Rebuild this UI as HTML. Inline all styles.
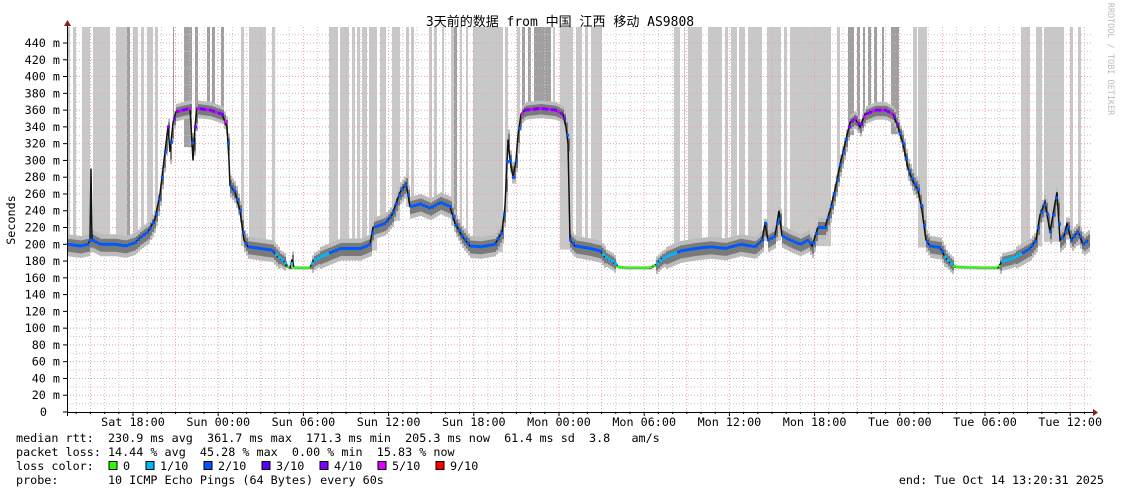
<!DOCTYPE html>
<html><head><meta charset="utf-8"><style>
html,body{margin:0;padding:0;background:#fff;}
svg{display:block;}
text{font-family:"DejaVu Sans Mono","Liberation Mono","Noto Sans CJK SC",monospace;font-size:11.75px;fill:#000;}
</style></head><body>
<svg id="s" width="1121" height="494" xmlns="http://www.w3.org/2000/svg">
<rect width="1121" height="494" fill="#fff"/>
<g id="bands"></g>
<g id="grid"></g>
<g id="smoke"></g>
<g id="med"></g>
<g id="axes"></g>
<text x="560" y="26" text-anchor="middle" style="font-family:'DejaVu Sans Mono','Noto Sans CJK SC',monospace;font-size:13px">3天前的数据 from 中国 江西 移动 AS9808</text>
<text transform="translate(15,220) rotate(-90)" text-anchor="middle">Seconds</text>
<text transform="translate(1108,59) rotate(90)" text-anchor="middle" style="font-size:8.5px;fill:#bbb">RRDTOOL / TOBI OETIKER</text>
<text x="16" y="442" xml:space="preserve">median rtt:  230.9 ms avg  361.7 ms max  171.3 ms min  205.3 ms now  61.4 ms sd  3.8   am/s</text>
<text x="16" y="456" xml:space="preserve">packet loss: 14.44 % avg  45.28 % max  0.00 % min  15.83 % now</text>
<text x="16" y="470" xml:space="preserve">loss color:  </text>
<text x="16" y="484" xml:space="preserve">probe:       10 ICMP Echo Pings (64 Bytes) every 60s</text>
<text x="1104" y="484" text-anchor="end">end: Tue Oct 14 13:20:31 2025</text>
<g id="leg"></g>
</svg>
<script>
var NS="http://www.w3.org/2000/svg";
function el(p,t,a){var e=document.createElementNS(NS,t);for(var k in a)e.setAttribute(k,a[k]);document.getElementById(p).appendChild(e);return e;}
function Y(v){return 412-v*0.8386;}
var X0=67,X1=1092;
var P=[[67,200],[80,198],[88,200],[90,205],[91,290],[92,205],[100,200],[115,200],[125,198],[135,202],[140,208],[148,215],[155,230],[160,260],[164,300],[168,340],[170,310],[173,345],[176,358],[182,360],[190,362],[193,300],[195,340],[197,362],[210,360],[222,355],[227,340],[229,300],[230,270],[235,262],[240,240],[244,205],[248,197],[260,195],[272,193],[278,185],[284,180],[287,173],[290,172],[292,182],[294,172],[310,172],[313,180],[320,185],[330,190],[340,195],[360,195],[370,200],[373,220],[385,225],[392,235],[400,262],[406,272],[410,245],[420,248],[430,243],[440,250],[450,245],[455,225],[462,210],[470,198],[480,197],[495,200],[502,215],[505,245],[508,325],[510,300],[513,280],[516,300],[518,330],[521,355],[525,360],[540,362],[555,360],[563,355],[566,340],[568,320],[570,205],[575,198],[590,195],[600,192],[605,185],[612,180],[618,173],[625,172],[650,172],[656,176],[662,183],[670,187],[680,192],[695,195],[710,197],[725,195],[740,200],[755,197],[762,205],[765,225],[768,205],[775,210],[779,240],[782,210],[790,205],[800,200],[808,205],[812,198],[818,220],[825,220],[830,240],[835,265],[840,295],[845,320],[850,345],[855,350],[860,340],[865,355],[875,360],[885,360],[893,355],[898,340],[903,320],[908,290],[913,275],[918,265],[922,240],[926,205],[930,198],[940,196],[945,185],[950,178],[955,173],[980,172],[998,172],[1002,180],[1012,183],[1020,188],[1030,195],[1036,205],[1040,235],[1045,250],[1050,215],[1053,235],[1057,262],[1060,205],[1064,210],[1067,225],[1071,205],[1078,215],[1083,200],[1088,205]];
function mv(x){for(var i=1;i<P.length;i++){if(P[i][0]>=x){var a=P[i-1],b=P[i];return a[1]+(b[1]-a[1])*(x-a[0])/Math.max(1,b[0]-a[0]);}}return P[P.length-1][1];}
var L=[[67,70],[73,76],[82,90],[93,110],[116,127],[133,138],[141,144],[147,153],[155,158],[241,244],[249,266],[272,275],[329,338],[340,349],[352,355],[357,360],[362,367],[369,377],[380,386],[392,400],[406,409],[411,414],[429,432],[434,437],[442,444],[451,454],[460,462],[466,468],[473,503],[505,508],[517,520],[553,555],[560,573],[576,582],[585,588],[591,602],[674,680],[684,685],[688,702],[708,722],[725,728],[731,737],[739,745],[748,762],[767,781],[784,787],[790,831],[837,840],[913,917],[918,927],[1021,1030],[1036,1042],[1044,1064],[1070,1073],[1078,1081]];
var D=[[127,130],[173,174],[184,192],[195,198],[207,210],[212,215],[221,224],[454,457],[522,525],[528,531],[534,551],[848,854],[857,860],[863,865],[868,871],[874,877],[882,884],[891,899]];
L.forEach(function(b){var m=Math.min(mv(b[0]),mv(b[1]));el("bands","rect",{x:b[0],y:27,width:b[1]-b[0],height:Y(m)-27+6,fill:"#c8c8c8"});});
D.forEach(function(b){var m=Math.min(mv(b[0]),mv(b[1]));el("bands","rect",{x:b[0],y:27,width:b[1]-b[0],height:Y(m)-27+4,fill:"#a0a0a0"});});
for(var v=10;v<=450;v+=10){var y=Y(v);el("grid","line",{x1:X0,x2:1093,y1:y,y2:y,stroke:(v%20==0)?"#e8a0a0":"#c8c8c8","stroke-width":1,"stroke-dasharray":"1,2"});}
for(var k=-5;k<=75;k++){var x=133+k*14.2;if(x<X0+1||x>1093)continue;var red=((k%3)+3)%3==0;el("grid","line",{x1:x,x2:x,y1:27,y2:412,stroke:red?"#f0a0a0":"#c8c8c8","stroke-dasharray":"1,2"});}
// smoke as vertical bars per pixel column
for(var x=X0+1;x<1090;x+=2){var v=mv(x),y=Y(v);var sp=(v<176)?1.5:(v>330||v<185)?8:10;
 el("smoke","rect",{x:x,y:y-sp,width:2,height:sp*2.2,fill:"#bcbcbc"});
 el("smoke","rect",{x:x,y:y-sp*0.55,width:2,height:sp*1.3,fill:"#7a7a7a"});}
var pts=P.map(function(p){return p[0]+","+Y(p[1]).toFixed(1);}).join(" ");
el("med","polyline",{points:pts,fill:"none",stroke:"#111","stroke-width":1.5});
for(var x=X0+2;x<1089;x+=3){var v=mv(x),c;if(v<176)c="#26ff00";else if(v<190)c="#00b8ff";else if(v<340)c="#0059ff";else c=(x%9==0)?"#dd00ff":"#7e00ff";
 if(v<176)el("med","rect",{x:x-1.5,y:Y(v)-1,width:3,height:2,fill:c});else el("med","rect",{x:x-1,y:Y(v)-1.5,width:3,height:3,fill:c});}
el("axes","line",{x1:67,x2:1096,y1:412.5,y2:412.5,stroke:"#000"});
el("axes","line",{x1:67.5,x2:67.5,y1:22,y2:416,stroke:"#000"});
el("axes","polygon",{points:"1093,409 1098,412.5 1093,416",fill:"#8b1a1a"});
el("axes","polygon",{points:"64,26 67.5,20 71,26",fill:"#8b1a1a"});
for(var v=0;v<=440;v+=20){var y=Y(v);el("axes","line",{x1:63,x2:67,y1:y,y2:y,stroke:"#000"});var t=el("axes","text",{x:v==0?47:60,y:y+4,"text-anchor":"end"});t.textContent=v==0?"0":v+" m";}
for(var k=-5;k<=75;k++){var x=133+k*14.2;if(x<X0||x>1093)continue;el("axes","line",{x1:x,x2:x,y1:412,y2:((k%6+6)%6==0)?416:414,stroke:"#000"});}
var labs=["Sat 18:00","Sun 00:00","Sun 06:00","Sun 12:00","Sun 18:00","Mon 00:00","Mon 06:00","Mon 12:00","Mon 18:00","Tue 00:00","Tue 06:00","Tue 12:00"];
labs.forEach(function(s,i){var t=el("axes","text",{x:133+i*85.2,y:426,"text-anchor":"middle"});t.textContent=s;});
var lg=[["0","#26ff00",109],["1/10","#00b8ff",146],["2/10","#0059ff",204],["3/10","#5e00ff",262],["4/10","#7e00ff",320],["5/10","#dd00ff",378],["9/10","#ff0000",436]];
lg.forEach(function(l){var x=l[2];el("leg","rect",{x:x,y:461.5,width:8,height:8,fill:l[1],stroke:"#000"});var t=el("leg","text",{x:x+14,y:470});t.textContent=l[0];});
</script>
</body></html>
